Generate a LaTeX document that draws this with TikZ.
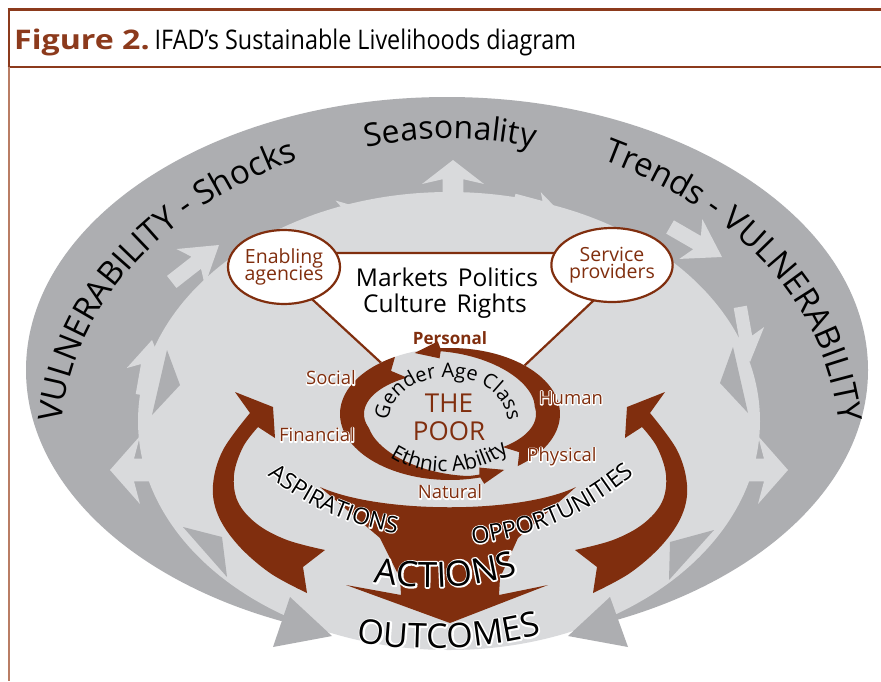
\documentclass[tikz,border=0pt]{standalone}
\usepackage{fontspec}
\setmainfont{Open Sans}
\usepackage{graphicx}
\usetikzlibrary{decorations.text,shapes.geometric}
\definecolor{brn}{RGB}{128,46,14}
\definecolor{dgray}{RGB}{173,174,177}
\definecolor{lgray}{RGB}{217,218,220}
\definecolor{framec}{RGB}{140,58,28}
\definecolor{framelt}{RGB}{185,125,100}
\newcommand\fsz[1]{\fontsize{#1}{#1}\selectfont}
\makeatletter
\newcommand\pdfraw[1]{\pgfsys@invoke{#1}}
\makeatother
% white outline copy of a text (stroked only)
\newcommand\halo[2]{\pdfraw{q 1 Tr #1 w 1 j 1 J}{\color{white}#2}\pdfraw{Q}}
% arrow head: colour, x, y, angle, length, width
\newcommand\lhead[6]{\fill[#1,shift={(#2,#3)},rotate=#4] (0,0) -- (-#5,{#6/2}) -- ({-0.8*#5},{#6/6}) -- ({-#5-24},{#6/6}) -- ({-#5-24},{-#6/6}) -- ({-0.8*#5},{-#6/6}) -- (-#5,{-#6/2}) -- cycle;}
% text along a path with white outline: size, outline width, text, path
\newcommand\halotxt[4]{%
  \begin{scope}
    \pdfraw{q 1 Tr #2 w 1 j 1 J}
    \path[decorate,decoration={text along path,text align=center,text color=white,text={|\fsz{#1}|#3}}] #4;
    \pdfraw{Q}
  \end{scope}
  \path[decorate,decoration={text along path,text align=center,text color=black,text={|\fsz{#1}|#3}}] #4;}
\newcommand\curvtxt[4]{%
  \path[decorate,decoration={text along path,text align=center,text color=#2,text={|\fsz{#1}|#3}}] #4;}
\tikzset{
  declare function={wA(\t)=24-21*max(0,min(1,(\t-200)/80)); wB(\t)=3+21*max(0,min(1,(455-\t)/85));},
  lbl/.style={text=brn,font=\fsz{18.5}},
}
\newcommand\hl[1]{\rlap{\halo{2.2}{#1}}#1}
\begin{document}
\begin{tikzpicture}[x=1pt,y=-1pt]
\useasboundingbox (0,0) rectangle (881,681);
\fill[white] (0,0) rectangle (881,681);
% frame
\draw[framec,line width=3] (7.5,9) -- (881,9);
\draw[framec,line width=2] (7.5,66.5) -- (881,66.5);
\draw[framec,line width=2.5] (9,8) -- (9,67);
\draw[framelt,line width=1.5] (9,67) -- (9,681);
\node[anchor=base west,inner sep=0] (hdr) at (14,49) {\fsz{27}\scalebox{1.19}[1]{\color{framec}\bfseries Figure 2.}\hspace{5pt}\scalebox{0.866}[1]{IFAD’s Sustainable Livelihoods diagram}};
% outer ring
\fill[dgray] (447,370) ellipse [x radius=421pt,y radius=273pt];
% light arrow heads in the ring
\lhead{lgray}{453}{160}{90}{24}{62}
\lhead{lgray}{358}{207}{15}{20}{24}
\lhead{lgray}{219}{245}{38}{36}{46}
\lhead{lgray}{152}{340}{80}{32}{40}
\lhead{lgray}{110}{470}{180}{30}{68}
\lhead{lgray}{557}{209}{-15}{20}{24}
\lhead{lgray}{722}{257}{-30}{36}{46}
\lhead{lgray}{750}{362}{-80}{32}{40}
\lhead{lgray}{788}{470}{0}{30}{68}
\fill[lgray] (449,421) ellipse [x radius=311pt,y radius=229pt];
% dark arrow heads inside
\fill[dgray] (290,597) -- (273,647) -- (332,636) -- cycle;
\fill[dgray] (610,597) -- (628,647) -- (568,636) -- cycle;
\fill[dgray] (183,527) -- (222,537) -- (227,577) -- cycle;
\fill[dgray] (714,530) -- (670,542) -- (669,580) -- cycle;
\fill[dgray] (733,347) -- (720,383) -- (748,413) -- cycle;
\fill[dgray] (167,350) -- (180,385) -- (152,415) -- cycle;
% ring texts
\curvtxt{32}{black}{Seasonality}{(350,152) .. controls (410,134) and (490,134) .. (550,152)}
\curvtxt{33}{black}{VULNERABILITY - Shocks}{(60,452) .. controls (60,320) and (150,206) .. (326,150)}
\curvtxt{33}{black}{Trends - VULNERABILITY}{(574,150) .. controls (750,206) and (840,320) .. (840,452)}
% triangle and institutions
\filldraw[fill=white,draw=brn,line width=2.2] (262,253) -- (644,253) -- (455,431) -- cycle;
\node[ellipse,draw=brn,fill=white,line width=2.2,minimum width=112,minimum height=74,inner sep=0,align=center,text=brn,font=\fsz{19.5}] (ena) at (284,267) {Enabling\\[-2pt]agencies};
\node[ellipse,draw=brn,fill=white,line width=2.2,minimum width=106,minimum height=74,inner sep=0,align=center,text=brn,font=\fsz{19.5}] (srv) at (612,265) {Service\\[-2pt]providers};
\node[font=\fsz{24.5}] (mk) at (447,277) {Markets\hspace{0.4em}Politics};
\node[font=\fsz{24.5}] (cu) at (445,306) {Culture\hspace{0.4em}Rights};
\node[text=brn,font=\fsz{17}\bfseries] (pers) at (450,338) {Personal};
% the poor
\fill[lgray] (450,414) ellipse [x radius=110pt,y radius=66pt];
\fill[brn] plot[domain=120:286,samples=60,variable=\t] ({450+110*cos(\t)},{414-66*sin(\t)})
  -- ({450+117*cos(287)},{414-73*sin(287)})
  -- ({450+108.5*cos(300)},{414-64.5*sin(300)})
  -- ({450+100*cos(287)},{414-56*sin(287)})
  -- plot[domain=286:120,samples=60,variable=\t] ({450+(110-wA(\t))*cos(\t)},{414-(66-wA(\t))*sin(\t)})
  -- ({450+98*cos(127)},{414-54*sin(127)}) -- cycle;
\fill[brn] plot[domain=308:455,samples=60,variable=\t] ({450+110*cos(\t)},{414-66*sin(\t)})
  -- ({450+117*cos(456)},{414-73*sin(456)})
  -- ({450+108.5*cos(469)},{414-64.5*sin(469)})
  -- ({450+100*cos(456)},{414-56*sin(456)})
  -- plot[domain=455:308,samples=60,variable=\t] ({450+(110-wB(\t))*cos(\t)},{414-(66-wB(\t))*sin(\t)})
  -- ({450+98*cos(315)},{414-54*sin(315)}) -- cycle;
\node[text=brn,font=\fsz{26}] (the) at (449,403) {THE};
\node[text=brn,font=\fsz{26}] (poor) at (449,431) {POOR};
\curvtxt{20}{black}{Gender Age Class}{(388,426) .. controls (388,361) and (508,361) .. (508,426)}
\curvtxt{21}{black}{Ethnic Ability}{(374,442) .. controls (402,482) and (488,484) .. (524,436)}
% big brown arrows
\fill[brn] (320,487) .. controls (380,514) and (520,514) .. (576,487) -- (518,538) -- (500,578) -- (499,595) -- (548,585) -- (450,623) -- (346,585) -- (401,595) -- (400,578) -- (380,538) -- cycle;
\begin{scope}
\fill[brn] (235,392) -- (273,407) -- (275,438) -- (258,427)
  -- plot[smooth,tension=0.6] coordinates {(258,427) (243,447) (234,475) (238,502) (257,524) (287,540) (325,550)}
  -- (303,567) -- (307,593)
  -- plot[smooth,tension=0.6] coordinates {(307,593) (270,573) (238,545) (218,515) (213,485) (223,450) (250,413)} -- cycle;
\end{scope}
\begin{scope}[shift={(900,0)},xscale=-1]
\fill[brn] (235,392) -- (273,407) -- (275,438) -- (258,427)
  -- plot[smooth,tension=0.6] coordinates {(258,427) (243,447) (234,475) (238,502) (257,524) (287,540) (325,550)}
  -- (303,567) -- (307,593)
  -- plot[smooth,tension=0.6] coordinates {(307,593) (270,573) (238,545) (218,515) (213,485) (223,450) (250,413)} -- cycle;
\end{scope}
% capital labels
\node[lbl] (soc) at (331,378) {\hl{Social}};
\node[lbl] (fin) at (317,435) {\hl{Financial}};
\node[lbl] (hum) at (571,398) {\hl{Human}};
\node[lbl] (phy) at (562,457) {\hl{Physical}};
\node[lbl] (nat) at (450,492) {\hl{Natural}};
% main texts
\halotxt{23}{2.4}{ASPIRATIONS}{(254,464) .. controls (300,505) and (350,528) .. (414,536)}
\halotxt{23.5}{2.4}{OPPORTUNITIES}{(452,546) .. controls (530,542) and (596,512) .. (650,460)}
\halotxt{35}{3}{ACTIONS}{(360,580) .. controls (420,592) and (470,590) .. (532,570)}
\halotxt{34}{3}{OUTCOMES}{(348,641) .. controls (410,652) and (480,652) .. (550,632)}
\end{tikzpicture}
\end{document}
